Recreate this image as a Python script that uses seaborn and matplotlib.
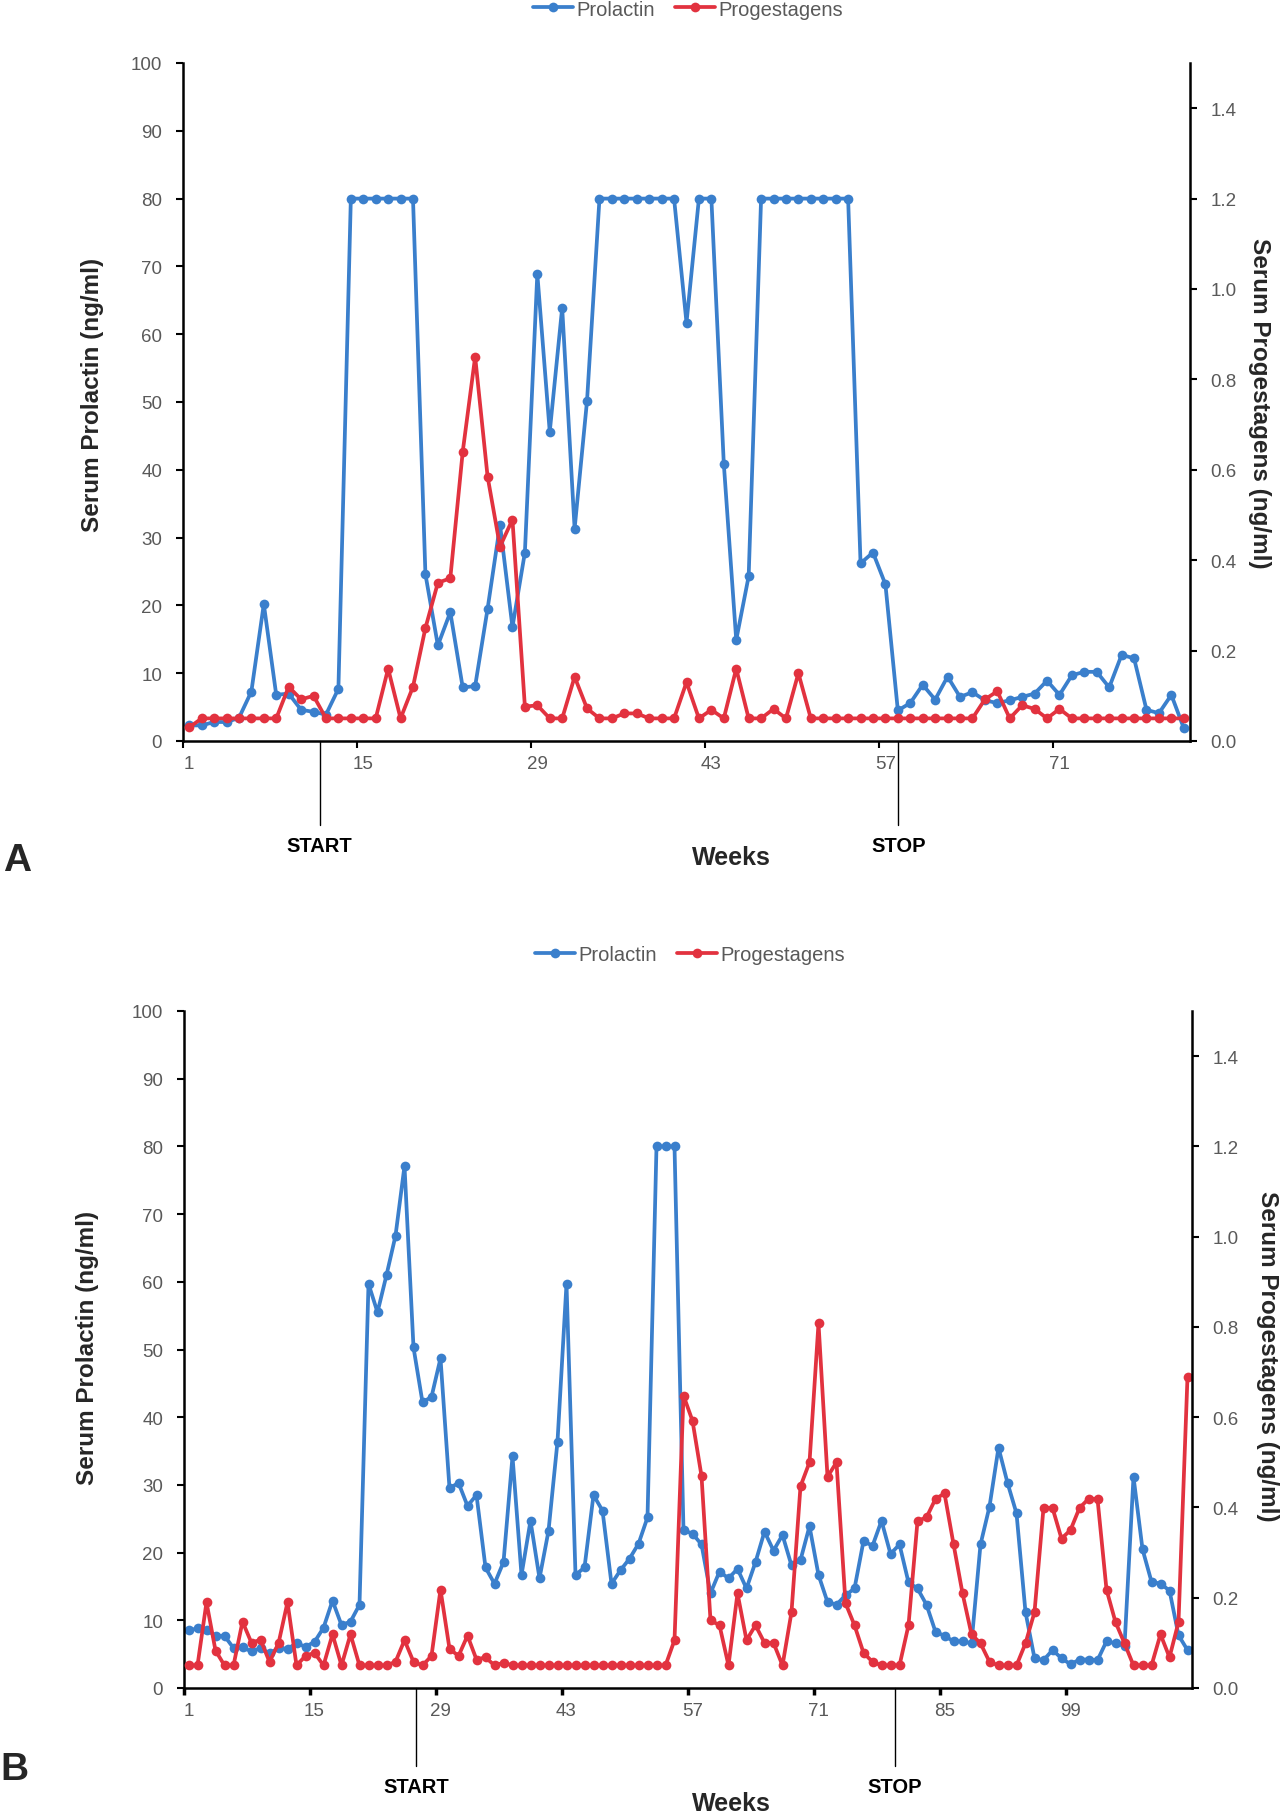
import matplotlib
matplotlib.use("Agg")
import matplotlib.pyplot as plt
import matplotlib.transforms as mtransforms
from matplotlib.lines import Line2D
from matplotlib.ticker import FormatStrFormatter
import numpy as np
import pandas as pd
import seaborn as sns

# ---- panel A: 81 weekly samples ----
prolactin_a = [
    2.3, 2.3, 2.8, 2.8, 3.4, 7.3, 20.2, 6.8, 7.0, 4.6, 4.3, 3.9, 7.7,
    80, 80, 80, 80, 80, 80,
    24.6, 14.1, 19.0, 7.9, 8.1, 19.5, 31.9, 16.8, 27.8, 68.9, 45.6, 63.9, 31.3, 50.2,
    80, 80, 80, 80, 80, 80, 80,
    61.7, 80, 80, 40.9, 14.9, 24.3,
    80, 80, 80, 80, 80, 80, 80, 80,
    26.2, 27.8, 23.1, 4.5, 5.6, 8.3, 6.1, 9.5, 6.5, 7.2, 6.0, 5.6, 6.0, 6.5,
    7.0, 8.9, 6.8, 9.7, 10.2, 10.2, 7.9, 12.7, 12.2, 4.6, 4.1, 6.8, 1.9,
]
progestagens_a = [
    0.03, 0.05, 0.05, 0.05, 0.05, 0.05, 0.05, 0.05,
    0.12, 0.092, 0.10, 0.05, 0.05, 0.05, 0.05, 0.05,
    0.16, 0.05, 0.12, 0.25, 0.35, 0.36, 0.64, 0.85, 0.585, 0.43, 0.49, 0.076, 0.079,
    0.05, 0.05, 0.142, 0.072, 0.05, 0.05, 0.061, 0.061, 0.05, 0.05, 0.05, 0.13,
    0.05, 0.069, 0.05, 0.16, 0.05, 0.05, 0.071, 0.05, 0.15,
    0.05, 0.05, 0.05, 0.05, 0.05, 0.05, 0.05, 0.05, 0.05, 0.05, 0.05, 0.05, 0.05, 0.05,
    0.092, 0.11, 0.05, 0.079, 0.071, 0.05, 0.071,
    0.05, 0.05, 0.05, 0.05, 0.05, 0.05, 0.05, 0.05, 0.05, 0.05,
]

# ---- panel B: 112 weekly samples ----
prolactin_b = [
    8.5, 8.8, 8.6, 7.7, 7.7, 5.9, 6.0, 5.4, 5.9, 5.1, 5.9, 5.8, 6.6, 6.1, 6.8,
    8.9, 12.9, 9.3, 9.8, 12.3, 59.7, 55.5, 61.0, 66.8, 77.1, 50.3, 42.2, 43.0, 48.7,
    29.5, 30.3, 26.9, 28.5, 17.8, 15.4, 18.6, 34.2, 16.7, 24.7, 16.2, 23.2, 36.4,
    59.7, 16.7, 17.8, 28.5, 26.2, 15.4, 17.4, 19.1, 21.3, 25.2, 80, 80, 80,
    23.3, 22.8, 21.2, 14.0, 17.2, 16.2, 17.6, 14.7, 18.6, 23.1, 20.3, 22.6, 18.1,
    18.9, 23.9, 16.7, 12.7, 12.3, 13.7, 14.7, 21.7, 21.0, 24.7, 19.8, 21.2, 15.6,
    14.7, 12.3, 8.3, 7.7, 6.9, 6.9, 6.6, 21.2, 26.8, 35.5, 30.3, 25.8, 11.2,
    4.4, 4.1, 5.6, 4.4, 3.5, 4.2, 4.2, 4.1, 6.9, 6.6, 6.2, 31.2, 20.5, 15.7,
    15.4, 14.4, 7.8, 5.6,
]
progestagens_b = [
    0.05, 0.05, 0.19, 0.083, 0.05, 0.05, 0.147, 0.10, 0.107, 0.058, 0.099, 0.19,
    0.05, 0.071, 0.078, 0.05, 0.119, 0.05, 0.119, 0.05, 0.05, 0.05, 0.05, 0.058,
    0.106, 0.058, 0.05, 0.071, 0.218, 0.087, 0.071, 0.116, 0.063, 0.068, 0.05, 0.056,
    0.05, 0.05, 0.05, 0.05, 0.05, 0.05, 0.05, 0.05, 0.05, 0.05, 0.05, 0.05,
    0.05, 0.05, 0.05, 0.05, 0.05, 0.05,
    0.106, 0.648, 0.592, 0.47, 0.15, 0.139, 0.05, 0.21, 0.106, 0.139, 0.10, 0.10,
    0.05, 0.168, 0.447, 0.50, 0.808, 0.468, 0.50, 0.188, 0.139, 0.078, 0.058, 0.05,
    0.05, 0.05, 0.139, 0.37, 0.378, 0.419, 0.431, 0.319, 0.21, 0.119, 0.099, 0.058,
    0.05, 0.05, 0.05, 0.099, 0.168, 0.399, 0.399, 0.331, 0.35, 0.399, 0.419, 0.419,
    0.218, 0.146, 0.099, 0.05, 0.05, 0.05, 0.119, 0.068, 0.146, 0.69,
]

# treatment markers (week positions)
marks_a = {"START": 11.5, "STOP": 58.05}
marks_b = {"START": 26.3, "STOP": 79.5}

W, H = 1282, 1815
BLUE = "#3a7fcc"
RED = "#e2323f"
GREY = "#595959"

sns.set_theme(style="white")
plt.rcParams["font.family"] = ["Liberation Sans", "DejaVu Sans"]

fig = plt.figure(figsize=(W / 100, H / 100), dpi=100)


def fx(px):
    return px / W


def fy(py):
    return 1 - py / H


def draw_panel(*, box, prolactin, progestagens, tick_width):
    left, top, right, bottom = box
    ax = fig.add_axes([fx(left), fy(bottom), fx(right) - fx(left), fy(top) - fy(bottom)])
    n = len(prolactin)
    df = pd.DataFrame({
        "week": np.arange(1, n + 1),
        "prolactin": prolactin,
        "progestagens": progestagens,
    })
    style = dict(marker="o", markersize=7, markeredgewidth=0, linewidth=2.7, legend=False)
    sns.lineplot(data=df, x="week", y="prolactin", ax=ax, color=BLUE,
                 label="Prolactin", **style)
    ax2 = ax.twinx()
    sns.lineplot(data=df, x="week", y="progestagens", ax=ax2, color=RED,
                 label="Progestagens", **style)

    ax.set_xlim(0.5, n + 0.5)
    ax.set_ylim(0, 100)
    ax2.set_ylim(0, 1.5)
    ax.set_yticks(range(0, 101, 10))
    ax2.set_yticks(np.arange(0, 1.41, 0.2))
    ax2.yaxis.set_major_formatter(FormatStrFormatter("%.1f"))
    ax.set_xticks(range(1, n + 1, 14))
    ax.set_xticks(np.arange(0.5, n, 14), minor=True)
    for a in (ax, ax2):
        a.set_xlabel("")
        a.set_ylabel("")
        a.grid(False)

    ax.tick_params(axis="x", which="major", bottom=True, length=0, pad=10,
                   labelsize=13.5, labelcolor=GREY)
    ax.tick_params(axis="x", which="minor", bottom=True, length=5,
                   width=tick_width, color="black")
    ax.tick_params(axis="y", left=True, length=5, width=1.5, color="black", pad=10,
                   labelsize=13.5, labelcolor=GREY)
    ax2.tick_params(axis="y", right=True, length=5, width=1.5, color="black", pad=9.5,
                    labelsize=13.5, labelcolor=GREY)

    for side in ("top", "right"):
        ax.spines[side].set_visible(False)
    for side in ("left", "bottom"):
        ax.spines[side].set_color("black")
        ax.spines[side].set_linewidth(1.8)
    for side in ("top", "left", "bottom"):
        ax2.spines[side].set_visible(False)
    ax2.spines["right"].set_color("black")
    ax2.spines["right"].set_linewidth(1.8)
    return ax, ax2


def draw_marks(ax, marks, y0, y1, text_y):
    trans = mtransforms.blended_transform_factory(ax.transData, fig.transFigure)
    for name, week in marks.items():
        fig.add_artist(Line2D([week, week], [fy(y0), fy(y1)], transform=trans,
                              color="black", linewidth=1.0))
        fig.text(week, fy(text_y), name, transform=trans, ha="center", va="center",
                 fontsize=14.5, fontweight="bold", color="black")


def add_legend(ax, ax2, center):
    fig.legend([ax.lines[0], ax2.lines[0]], ["Prolactin", "Progestagens"],
               loc="center", bbox_to_anchor=(fx(center[0]), fy(center[1])), ncol=2,
               frameon=False, fontsize=14.5, labelcolor=GREY, handlelength=2.0,
               handletextpad=0.15, columnspacing=1.0)


# ---- panel A ----
ax_a, ax_a2 = draw_panel(box=(183, 64, 1190, 742), prolactin=prolactin_a,
                         progestagens=progestagens_a, tick_width=1.5)
draw_marks(ax_a, marks_a, 742, 826, 847)
fig.text(fx(93), fy(395), "Serum Prolactin (ng/ml)", rotation=90, ha="center",
         va="center", fontsize=17.5, fontweight="bold")
fig.text(fx(1260), fy(403), "Serum Progestagens (ng/ml)", rotation=-90, ha="center",
         va="center", fontsize=17.5, fontweight="bold")
fig.text(fx(731), fy(858), "Weeks", ha="center", va="center", fontsize=18,
         fontweight="bold")
fig.text(fx(17), fy(861), "A", ha="center", va="center", fontsize=28, fontweight="bold")
add_legend(ax_a, ax_a2, (688, 10))

# ---- panel B ----
ax_b, ax_b2 = draw_panel(box=(184, 1012, 1192, 1689), prolactin=prolactin_b,
                         progestagens=progestagens_b, tick_width=2.5)
draw_marks(ax_b, marks_b, 1689, 1767, 1788)
fig.text(fx(88), fy(1348), "Serum Prolactin (ng/ml)", rotation=90, ha="center",
         va="center", fontsize=17.5, fontweight="bold")
fig.text(fx(1268), fy(1356), "Serum Progestagens (ng/ml)", rotation=-90, ha="center",
         va="center", fontsize=17.5, fontweight="bold")
fig.text(fx(731), fy(1804), "Weeks", ha="center", va="center", fontsize=18,
         fontweight="bold")
fig.text(fx(14), fy(1770), "B", ha="center", va="center", fontsize=28, fontweight="bold")
add_legend(ax_b, ax_b2, (690, 956))

fig.savefig("out.png", dpi=100, facecolor="white")
